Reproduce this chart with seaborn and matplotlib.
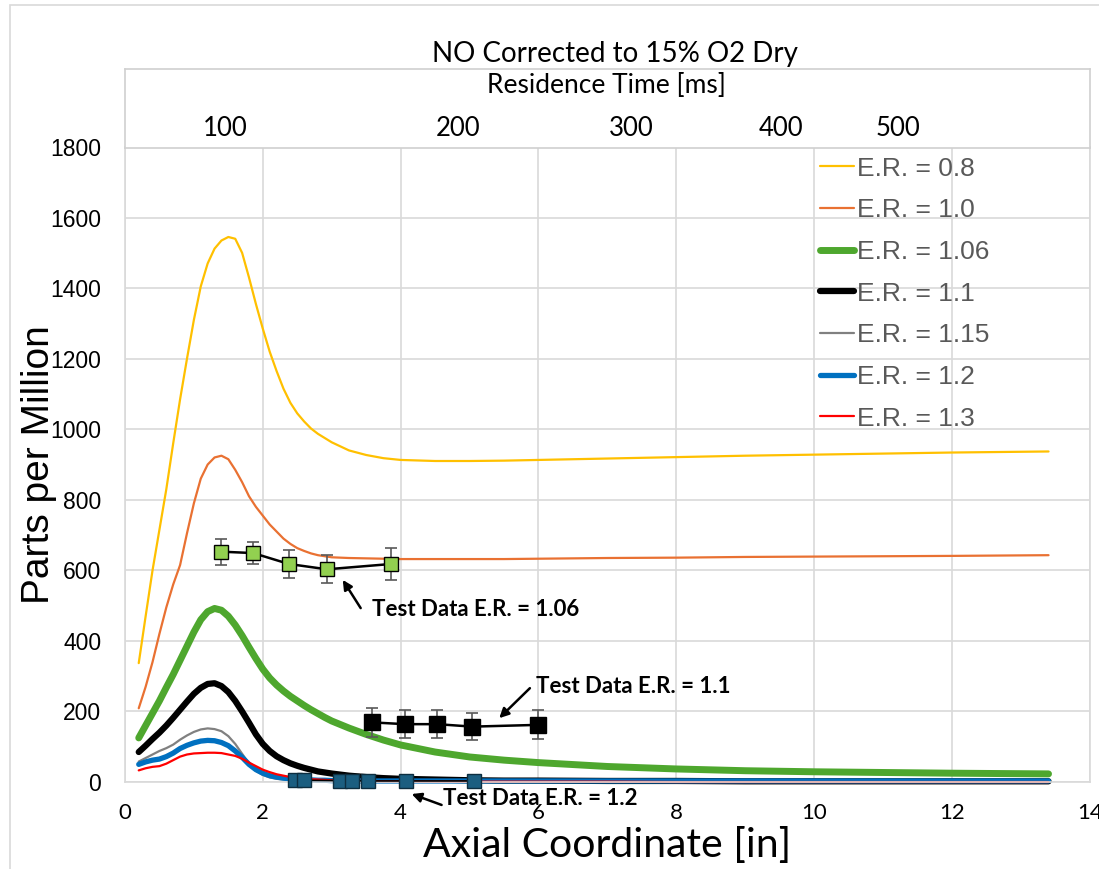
import matplotlib
matplotlib.use("Agg")
import matplotlib.pyplot as plt
import seaborn as sns
from matplotlib.patches import Rectangle

# 軸向座標 [in]，各當量比曲線共用
axial = [0.2, 0.3, 0.4, 0.5, 0.6, 0.7, 0.8, 0.9, 1.0, 1.1, 1.2, 1.3, 1.4, 1.5, 1.6,
         1.7, 1.8, 1.9, 2.0, 2.1, 2.2, 2.3, 2.4, 2.5, 2.6, 2.7, 2.8, 2.9, 3.0,
         3.25, 3.5, 3.75, 4.0, 4.5, 5.0, 5.5, 6.0, 7.0, 8.0, 9.0, 10.0, 11.0, 12.0, 13.4]

er08 = [337, 470, 600, 715, 830, 960, 1085, 1200, 1310, 1405, 1470, 1512, 1535, 1545, 1540,
        1500, 1430, 1355, 1285, 1220, 1165, 1115, 1075, 1045, 1022, 1002, 987, 975, 963,
        940, 927, 918, 913, 910, 910, 911, 913, 917, 921, 925, 928, 931, 934, 937]
er10 = [209, 270, 340, 420, 495, 560, 615, 705, 790, 860, 900, 920, 925, 915, 885,
        850, 810, 780, 755, 730, 710, 690, 675, 663, 655, 648, 643, 640, 637,
        635, 634, 633, 632, 632, 632, 632, 633, 635, 636, 638, 639, 640, 641, 643]
er106 = [125, 160, 195, 230, 268, 305, 345, 385, 425, 460, 483, 492, 487, 470, 445,
         415, 382, 350, 320, 295, 275, 258, 243, 230, 217, 205, 194, 183, 173,
         153, 135, 119, 105, 85, 71, 62, 55, 44, 37, 32, 29, 27, 25, 23]
er11 = [85, 103, 122, 140, 160, 182, 205, 228, 250, 267, 278, 280, 272, 255, 230,
        200, 168, 135, 108, 88, 73, 62, 53, 46, 40, 35, 30, 27, 24,
        18, 14, 11, 9, 7, 5, 4, 4, 3, 3, 2, 2, 2, 2, 2]
er115 = [58, 68, 78, 88, 96, 106, 120, 132, 142, 149, 152, 150, 144, 130, 108,
         80, 52, 32, 20, 13, 9, 7, 5, 4, 3, 3, 2, 2, 2,
         1, 1, 1, 1, 1, 1, 1, 1, 1, 1, 1, 1, 1, 1, 1]
er12 = [50, 57, 62, 65, 72, 82, 95, 104, 111, 116, 118, 117, 112, 103, 88,
        70, 50, 35, 25, 18, 14, 11, 9, 7, 6, 6, 5, 5, 4,
        4, 3, 3, 3, 3, 3, 3, 3, 3, 3, 3, 3, 3, 3, 3]
er13 = [33, 39, 43, 45, 52, 62, 72, 78, 81, 82, 83, 83, 82, 78, 74,
        66, 55, 45, 35, 28, 22, 18, 14, 11, 9, 8, 7, 6, 5,
        4, 3, 2, 2, 1, 1, 1, 1, 1, 0, 0, 0, 0, 0, 0]

# 試驗數據
test106_x = [1.39, 1.86, 2.38, 2.93, 3.86]
test106_y = [653, 649, 618, 603, 618]
test106_err = [37, 32, 39, 40, 44]

test11_x = [3.59, 4.06, 4.53, 5.04, 6.00]
test11_y = [169, 164, 164, 157, 162]
test11_err = [40, 39, 39, 39, 41]

test12_x = [2.46, 2.60, 3.12, 3.30, 3.52, 4.08, 5.07]
test12_y = [6, 5, 4, 4, 3, 3, 3]

# 停留時間（上方刻度）對應的軸向位置
res_labels = ['100', '200', '300', '400', '500']
res_axial = [1.45, 4.83, 7.34, 9.52, 11.22]

x_ticks = list(range(0, 15, 2))
y_ticks = list(range(0, 1801, 200))

series = [
    ('E.R. = 0.8', er08, '#FFC000', 1.6),
    ('E.R. = 1.0', er10, '#E97132', 1.6),
    ('E.R. = 1.06', er106, '#4EA72E', 5.0),
    ('E.R. = 1.1', er11, 'black', 4.5),
    ('E.R. = 1.15', er115, '#808080', 1.6),
    ('E.R. = 1.2', er12, '#0070C0', 3.8),
    ('E.R. = 1.3', er13, '#FF0000', 1.6),
]

sns.set_theme(style='white')
aptos_like = ['Lato', 'DejaVu Sans']
arial_like = ['Liberation Sans', 'DejaVu Sans']
plt.rcParams['font.family'] = aptos_like

fig = plt.figure(figsize=(10.99, 8.69), dpi=100)
ax = fig.add_axes([0.1137, 0.1001, 0.878, 0.7307])

for name, vals, col, lw in series:
    sns.lineplot(x=axial, y=vals, ax=ax, color=col, linewidth=lw, label=name,
                 sort=False, zorder=2, clip_on=False)

# 試驗數據 E.R. = 1.06
ax.errorbar(test106_x, test106_y, yerr=test106_err, fmt='none', ecolor='#595959',
            elinewidth=1.2, capsize=4, capthick=1.2, zorder=4)
sns.lineplot(x=test106_x, y=test106_y, ax=ax, color='black', linewidth=1.8,
             marker='s', markersize=10.5, markerfacecolor='#92D050',
             markeredgecolor='black', markeredgewidth=1.0, sort=False,
             label='_nolegend_', zorder=5)

# 試驗數據 E.R. = 1.1
ax.errorbar(test11_x, test11_y, yerr=test11_err, fmt='none', ecolor='#595959',
            elinewidth=1.2, capsize=4, capthick=1.2, zorder=4)
sns.lineplot(x=test11_x, y=test11_y, ax=ax, color='black', linewidth=1.8,
             marker='s', markersize=11, markerfacecolor='black',
             markeredgecolor='black', markeredgewidth=1.0, sort=False,
             label='_nolegend_', zorder=5)

# 試驗數據 E.R. = 1.2
sns.lineplot(x=test12_x, y=test12_y, ax=ax, color='black', linewidth=1.2,
             marker='s', markersize=10.5, markerfacecolor='#1B5E80',
             markeredgecolor='#0D2E40', markeredgewidth=1.0, sort=False,
             label='_nolegend_', zorder=5, clip_on=False)

ax.set_xlim(0, 14)
ax.set_ylim(0, 1800)
ax.set_xticks(x_ticks)
ax.set_yticks(y_ticks)
ax.grid(True, color='#D9D9D9', linewidth=1.2)
ax.set_axisbelow(True)
for s in ax.spines.values():
    s.set_color('#D9D9D9')
    s.set_linewidth(1.2)
ax.tick_params(axis='x', length=0, pad=15, labelsize=16, colors='black')
ax.tick_params(axis='y', length=0, pad=17, labelsize=16.5, colors='black')
for lab in ax.get_yticklabels():
    lab.set_family(arial_like)

ax.set_xlabel('Axial Coordinate [in]', fontsize=29.5, color='black')
ax.xaxis.set_label_coords(0.5, -0.071)
ax.set_ylabel('Parts per Million', fontsize=28, color='black', family=arial_like)
ax.yaxis.set_label_coords(-0.0705, 0.5)

# 箭頭與標註
bold = dict(fontsize=16, fontweight='bold', color='black', ha='left', va='center',
            clip_on=False, zorder=6)
arrow = dict(arrowstyle='-|>', color='black', lw=1.8, mutation_scale=14,
             shrinkA=0, shrinkB=0)
ax.text(3.59, 489, 'Test Data E.R. = 1.06', **bold)
ax.annotate('', xy=(3.16, 573), xytext=(3.42, 493), arrowprops=arrow,
            annotation_clip=False)
ax.text(5.97, 271, 'Test Data E.R. = 1.1', **bold)
ax.annotate('', xy=(5.43, 181), xytext=(5.875, 266), arrowprops=arrow,
            annotation_clip=False)
ax.text(4.61, -48, 'Test Data E.R. = 1.2', **bold)
ax.annotate('', xy=(4.16, -34), xytext=(4.594, -65), arrowprops=arrow,
            annotation_clip=False)

leg = ax.legend(loc='upper left', bbox_to_anchor=(0.72, 0.985), frameon=False,
                prop={'family': arial_like, 'size': 19}, labelcolor='#595959',
                handlelength=1.3, handletextpad=0.1, labelspacing=0.67,
                borderpad=0, borderaxespad=0)

# 上方停留時間框
ax_top = fig.add_axes([0.1137, 0.8297, 0.878, 0.0909])
ax_top.set_xlim(0, 14)
ax_top.set_ylim(0, 1)
ax_top.set_xticks([])
ax_top.set_yticks([])
ax_top.set_facecolor('white')
for s in ax_top.spines.values():
    s.set_color('#D0D0D0')
    s.set_linewidth(1.2)
for pos, lab in zip(res_axial, res_labels):
    ax_top.text(pos, 0.253, lab, transform=ax_top.get_xaxis_transform(),
                ha='center', va='center', fontsize=18.5, color='black')
ax_top.text(0.499, 0.79, 'Residence Time [ms]', transform=ax_top.transAxes,
            ha='center', va='center', fontsize=19, color='black')

fig.text(615 / 1099, 1 - 54 / 869, 'NO Corrected to 15% O2 Dry', ha='center',
         va='center', fontsize=20, color='black')

# 圖表外框
fig.patches.append(Rectangle((10 / 1099, -0.1), 1.2, 0.1 + 864 / 869,
                             transform=fig.transFigure, fill=False,
                             edgecolor='#D9D9D9', linewidth=1.2, zorder=0))

fig.savefig('out.png', dpi=100)
